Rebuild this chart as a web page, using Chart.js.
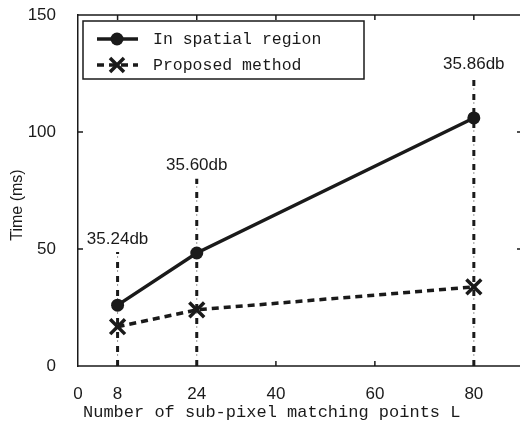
<!DOCTYPE html>
<html>
<head>
<meta charset="utf-8">
<script src="https://cdn.jsdelivr.net/npm/chart.js@4/dist/chart.umd.min.js"></script>
<style>
  html, body { margin: 0; padding: 0; background: #fff; }
  canvas { display: block; }
</style>
</head>
<body>
<canvas id="timeChart" width="520" height="424"></canvas>
<script>
// data -------------------------------------------------------------------------
const matchingPoints = [8, 24, 80];
const spatialTimes = [26, 48.3, 106];
const proposedTimes = [16.8, 24, 33.8];
const xTickValues = [0, 8, 24, 40, 60, 80];
const yTickValues = [0, 50, 100, 150];
const psnrLabels = ["35.24db", "35.60db", "35.86db"];
const guideTops = [48.7, 80, 123.5];

const INK = "#1a1a1a";

const toPoints = (xs, ys) => xs.map((x, i) => ({ x: x, y: ys[i] }));

// vertical dash-dot guides (thin dots + thick dashes)
const guideSets = [];
matchingPoints.forEach((x, i) => {
  const pts = [{ x: x, y: 0 }, { x: x, y: guideTops[i] }];
  guideSets.push({
    data: pts, borderColor: "#9a9a9a", borderWidth: 1,
    borderDash: [2, 12], borderDashOffset: -10, pointRadius: 0, order: 6,
  });
  guideSets.push({
    data: pts, borderColor: INK, borderWidth: 3,
    borderDash: [6, 8], pointRadius: 0, order: 5,
  });
});

// extras: frame, inward ticks, db labels, axis titles, legend -------------------
const extras = {
  id: "extras",
  afterDraw(chart) {
    const { ctx, chartArea: a, scales: { x, y } } = chart;
    const right = chart.width;
    ctx.save();
    ctx.strokeStyle = INK;
    ctx.lineWidth = 1.5;
    ctx.beginPath();
    ctx.moveTo(a.left - 0.75, a.top);
    ctx.lineTo(right, a.top);
    ctx.moveTo(a.left - 0.75, a.bottom);
    ctx.lineTo(right, a.bottom);
    // inward ticks
    [8, 24, 40, 60, 80].forEach((v) => {
      const px = x.getPixelForValue(v);
      ctx.moveTo(px, a.top);
      ctx.lineTo(px, a.top + 5);
    });
    [40, 60].forEach((v) => {
      const px = x.getPixelForValue(v);
      ctx.moveTo(px, a.bottom);
      ctx.lineTo(px, a.bottom - 5);
    });
    [50, 100].forEach((v) => {
      const py = y.getPixelForValue(v);
      ctx.moveTo(a.left, py);
      ctx.lineTo(a.left + 5, py);
      ctx.moveTo(right, py);
      ctx.lineTo(right - 3, py);
    });
    ctx.stroke();

    // PSNR labels above guides
    ctx.fillStyle = INK;
    ctx.font = "17px 'Liberation Sans'";
    ctx.textAlign = "center";
    ctx.textBaseline = "middle";
    matchingPoints.forEach((v, i) => {
      ctx.fillText(psnrLabels[i], x.getPixelForValue(v), y.getPixelForValue(guideTops[i]) - 13);
    });

    // axis titles
    ctx.save();
    ctx.translate(18, 205);
    ctx.rotate(-Math.PI / 2);
    ctx.font = "16px 'Liberation Sans'";
    ctx.fillText("Time (ms)", 0, 0);
    ctx.restore();
    ctx.font = "17px 'Liberation Mono'";
    ctx.textAlign = "left";
    ctx.fillText("Number of sub-pixel matching points L", 83, 412);

    // legend
    ctx.lineWidth = 1.5;
    ctx.strokeRect(83, 21, 281, 58);
    const rows = [
      { label: "In spatial region", y: 39, dash: [], marker: "circle" },
      { label: "Proposed method", y: 65, dash: [7, 5], marker: "cross" },
    ];
    rows.forEach((r) => {
      ctx.lineWidth = 3.5;
      ctx.setLineDash(r.dash);
      ctx.beginPath();
      ctx.moveTo(97, r.y);
      ctx.lineTo(138, r.y);
      ctx.stroke();
      ctx.setLineDash([]);
      if (r.marker === "circle") {
        ctx.beginPath();
        ctx.arc(117, r.y, 6.5, 0, Math.PI * 2);
        ctx.fill();
      } else {
        ctx.beginPath();
        ctx.moveTo(110, r.y - 7); ctx.lineTo(124, r.y + 7);
        ctx.moveTo(124, r.y - 7); ctx.lineTo(110, r.y + 7);
        ctx.stroke();
      }
      ctx.font = "16.5px 'Liberation Mono'";
      ctx.textAlign = "left";
      ctx.fillText(r.label, 153, r.y + 1);
    });
    ctx.restore();
  },
};

new Chart(document.getElementById("timeChart"), {
  type: "line",
  data: {
    datasets: [
      {
        label: "In spatial region",
        data: toPoints(matchingPoints, spatialTimes),
        borderColor: INK,
        backgroundColor: INK,
        borderWidth: 3.5,
        pointStyle: "circle",
        pointRadius: 6.5,
        pointBorderWidth: 0,
        order: 1,
      },
      {
        label: "Proposed method",
        data: toPoints(matchingPoints, proposedTimes),
        borderColor: INK,
        backgroundColor: INK,
        borderWidth: 3.5,
        borderDash: [7, 5],
        pointStyle: "crossRot",
        pointRadius: 10.5,
        pointBorderWidth: 3.5,
        order: 1,
      },
      ...guideSets,
    ],
  },
  options: {
    responsive: false,
    animation: false,
    devicePixelRatio: 1,
    layout: { padding: { top: 15, right: 0, left: 0, bottom: 0 } },
    scales: {
      x: {
        type: "linear",
        min: 0,
        max: 86.5,
        grid: { display: false },
        border: { display: false },
        afterBuildTicks: (s) => { s.ticks = xTickValues.map((v) => ({ value: v })); },
        afterFit: (s) => { s.height = 58; s.paddingLeft = 0; s.paddingRight = 0; },
        ticks: {
          color: INK,
          padding: 10,
          maxRotation: 0,
          autoSkip: false,
          font: { family: "'Liberation Sans'", size: 17 },
        },
      },
      y: {
        min: 0,
        max: 150,
        grid: { display: false },
        border: { display: true, color: INK, width: 1.5 },
        afterBuildTicks: (s) => { s.ticks = yTickValues.map((v) => ({ value: v })); },
        afterFit: (s) => { s.width = 78; s.paddingTop = 0; s.paddingBottom = 0; },
        ticks: {
          color: INK,
          padding: 14,
          font: { family: "'Liberation Sans'", size: 17 },
        },
      },
    },
    plugins: {
      legend: { display: false },
      tooltip: { enabled: false },
    },
  },
  plugins: [extras],
});
</script>
</body>
</html>
